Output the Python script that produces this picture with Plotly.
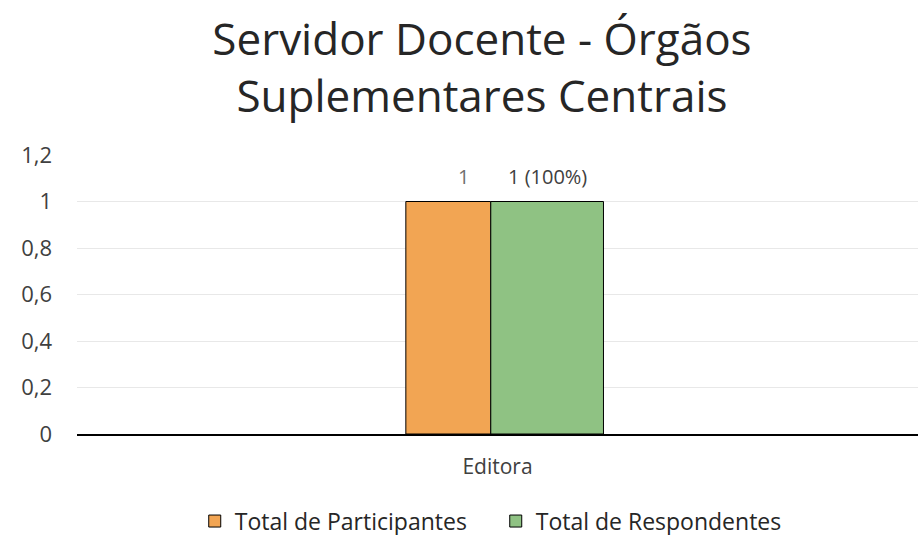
import plotly.graph_objects as go

# data
categorias = ['Editora']
participantes = [1]
respondentes = [1]
rotulos_part = ['1']
rotulos_resp = ['1 (100%)']
y_ticks = [0, 0.2, 0.4, 0.6, 0.8, 1, 1.2]
y_tick_labels = ['0', '0,2', '0,4', '0,6', '0,8', '1', '1,2']

fonte = 'Open Sans, sans-serif'

fig = go.Figure()
fig.add_trace(go.Bar(
    x=categorias, y=participantes, name='Total de Participantes',
    marker=dict(color='#F2A553', line=dict(color='black', width=1)),
    width=0.101, offset=-0.109,
))
fig.add_trace(go.Bar(
    x=categorias, y=respondentes, name='Total de Respondentes',
    marker=dict(color='#8FC283', line=dict(color='black', width=1)),
    width=0.134, offset=-0.008,
))

# rotulos acima das barras
for xs, val, txt, cor in [(-0.041, participantes[0], rotulos_part[0], '#707070'),
                         (0.059, respondentes[0], rotulos_resp[0], '#404040')]:
    fig.add_annotation(x=xs, y=val, text=txt, showarrow=False, xref='x', yref='y',
                       yanchor='bottom', yshift=10,
                       font=dict(family=fonte, size=20, color=cor))

fig.update_layout(
    width=918, height=535,
    paper_bgcolor='white', plot_bgcolor='white',
    margin=dict(l=77, r=0, t=155, b=101, autoexpand=False),
    font=dict(family=fonte, color='#404040'),
    title=dict(text='Servidor Docente - Órgãos<br>Suplementares Centrais',
               x=0.525, xanchor='center', yref='container', y=0.898, yanchor='middle',
               font=dict(family=fonte, size=44, color='#262626')),
    barmode='overlay',
    showlegend=True,
    legend=dict(orientation='h', x=0.14, xanchor='left',
                yref='container', y=0.026, yanchor='middle',
                entrywidth=256, entrywidthmode='pixels', itemwidth=30,
                font=dict(size=23, color='#262626'), traceorder='normal'),
    xaxis=dict(showline=True, linecolor='black', linewidth=2, automargin=False,
               tickfont=dict(size=21, color='#404040'), ticks='',
               ticklabelstandoff=13, range=[-0.5, 0.5]),
    yaxis=dict(range=[0, 1.2], tickvals=y_ticks, ticktext=y_tick_labels, automargin=False,
               showgrid=True, gridcolor='#E8E8E8', zeroline=False,
               tickfont=dict(size=22, color='#404040'), ticks='', ticklabelstandoff=24),
)

fig.write_html('out.html', config={'displayModeBar': False},
               post_script="document.body.style.margin='0';")
